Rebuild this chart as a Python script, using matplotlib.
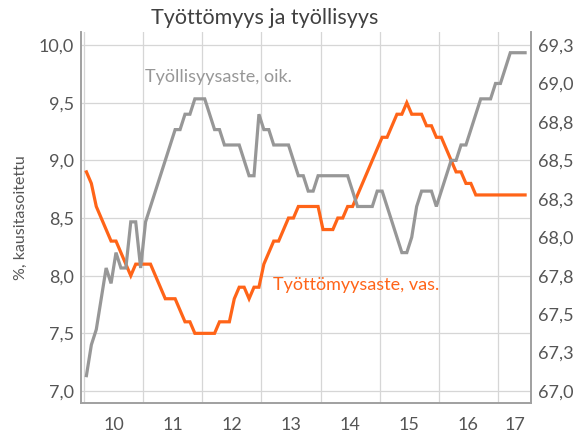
import numpy as np
import matplotlib
matplotlib.use("Agg")
import matplotlib.pyplot as plt
from matplotlib.ticker import FixedLocator, NullFormatter, FixedFormatter

# monthly data, Jan 2010 - Jun 2017
unemployment = [8.9, 8.8, 8.6, 8.5, 8.4, 8.3, 8.3, 8.2, 8.1, 8.0,
                8.1, 8.1, 8.1, 8.1, 8.0, 7.9, 7.8, 7.8, 7.8, 7.7,
                7.6, 7.6, 7.5, 7.5, 7.5, 7.5, 7.5, 7.6, 7.6, 7.6,
                7.8, 7.9, 7.9, 7.8, 7.9, 7.9, 8.1, 8.2, 8.3, 8.3,
                8.4, 8.5, 8.5, 8.6, 8.6, 8.6, 8.6, 8.6, 8.4, 8.4,
                8.4, 8.5, 8.5, 8.6, 8.6, 8.7, 8.8, 8.9, 9.0, 9.1,
                9.2, 9.2, 9.3, 9.4, 9.4, 9.5, 9.4, 9.4, 9.4, 9.3,
                9.3, 9.2, 9.2, 9.1, 9.0, 8.9, 8.9, 8.8, 8.8, 8.7,
                8.7, 8.7, 8.7, 8.7, 8.7, 8.7, 8.7, 8.7, 8.7, 8.7]
employment = [67.1, 67.3, 67.4, 67.6, 67.8, 67.7, 67.9, 67.8, 67.8, 68.1,
              68.1, 67.8, 68.1, 68.2, 68.3, 68.4, 68.5, 68.6, 68.7, 68.7,
              68.8, 68.8, 68.9, 68.9, 68.9, 68.8, 68.7, 68.7, 68.6, 68.6,
              68.6, 68.6, 68.5, 68.4, 68.4, 68.8, 68.7, 68.7, 68.6, 68.6,
              68.6, 68.6, 68.5, 68.4, 68.4, 68.3, 68.3, 68.4, 68.4, 68.4,
              68.4, 68.4, 68.4, 68.4, 68.3, 68.2, 68.2, 68.2, 68.2, 68.3,
              68.3, 68.2, 68.1, 68.0, 67.9, 67.9, 68.0, 68.2, 68.3, 68.3,
              68.3, 68.2, 68.3, 68.4, 68.5, 68.5, 68.6, 68.6, 68.7, 68.8,
              68.9, 68.9, 68.9, 69.0, 69.0, 69.1, 69.2, 69.2, 69.2, 69.2]
year_labels = ["10", "11", "12", "13", "14", "15", "16", "17"]
left_ticks = [7.0, 7.5, 8.0, 8.5, 9.0, 9.5, 10.0]
right_ticks = [67.0 + 0.25 * k for k in range(10)]

orange = "#ff6418"
grey = "#979797"
text_col = "#555555"
plt.rcParams["font.family"] = ["Lato", "DejaVu Sans"]

months = np.arange(len(unemployment))
x_left, x_right = -1.1, 90.2
y_low, y_high = 6.896, 10.113

fig = plt.figure(figsize=(5.85, 4.33), dpi=100)
ax = fig.add_axes([81 / 585, 30 / 433, 450 / 585, 371 / 433])
ax2 = ax.twinx()

ax.plot(months, unemployment, color=orange, lw=2.3, solid_joinstyle="miter", zorder=3)
ax2.plot(months, employment, color=grey, lw=2.3, solid_joinstyle="miter", zorder=3)

ax.set_xlim(x_left, x_right)
ax.set_ylim(y_low, y_high)
# right axis shares the same grid: 67.0 .. 69.25 over 7.0 .. 10.0
ax2.set_ylim(67.0 + (y_low - 7.0) * 0.75, 67.0 + (y_high - 7.0) * 0.75)

# year boundaries and label positions
bounds = [-0.5 + 12 * k for k in range(len(year_labels))]
centers = [b + 6 for b in bounds[:-1]] + [(bounds[-1] + x_right) / 2]
ax.xaxis.set_major_locator(FixedLocator(bounds))
ax.xaxis.set_major_formatter(NullFormatter())
ax.xaxis.set_minor_locator(FixedLocator(centers))
ax.xaxis.set_minor_formatter(FixedFormatter(year_labels))
ax.tick_params(axis="x", which="both", length=0, pad=10, labelsize=13, labelcolor=text_col)

ax.set_yticks(left_ticks)
ax.set_yticklabels([f"{v:.1f}".replace(".", ",") for v in left_ticks])
ax.tick_params(axis="y", length=0, pad=5, labelsize=13, labelcolor=text_col)
ax2.set_yticks(right_ticks)
ax2.set_yticklabels([f"{v + 1e-9:.1f}".replace(".", ",") for v in right_ticks])
ax2.tick_params(axis="y", length=0, pad=5, labelsize=13, labelcolor=text_col)

ax.grid(True, which="major", color="#d6d6d6", lw=0.9)
ax.set_axisbelow(True)
for a in (ax, ax2):
    a.spines["top"].set_visible(False)
    for s in ("left", "right", "bottom"):
        a.spines[s].set_color("#a0a0a0")
        a.spines[s].set_linewidth(1.2)

ax.set_ylabel("%, kausitasoitettu", fontsize=11.5, color=text_col, labelpad=8)

ax.text(11.9, 9.68, "Työllisyysaste, oik.", color=grey, fontsize=13, va="baseline", ha="left")
ax.text(37.8, 7.876, "Työttömyysaste, vas.", color=orange, fontsize=13, va="baseline", ha="left")

fig.text(265 / 585, 1 - 23.5 / 433, "Työttömyys ja työllisyys", fontsize=15.5,
         color="#404040", ha="center", va="baseline")

fig.savefig("out.png", dpi=100)
